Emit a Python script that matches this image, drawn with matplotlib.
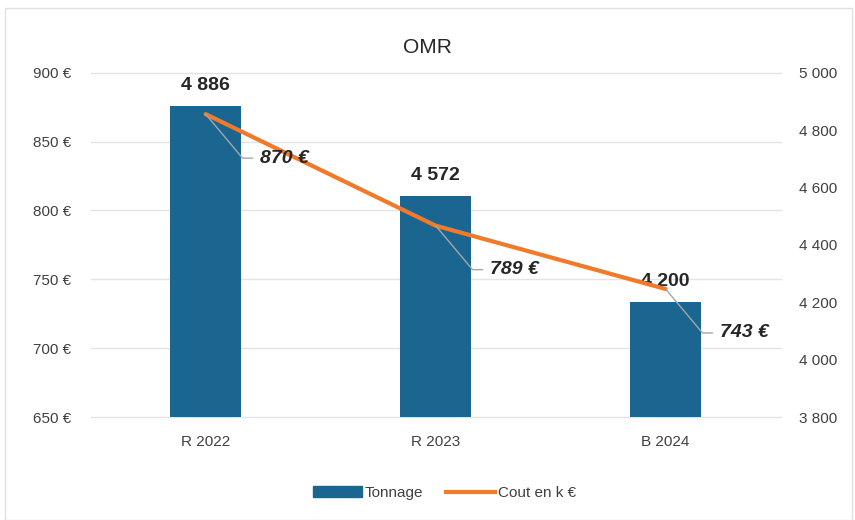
import matplotlib.pyplot as plt
from matplotlib.patches import Rectangle
from matplotlib.ticker import FuncFormatter

categories = ["R 2022", "R 2023", "B 2024"]
tonnage = [4886, 4572, 4200]
cout = [870, 789, 743]

bar_color = "#1b6591"
line_color = "#f07a2a"
text_color = "#262626"
tick_color = "#404040"

plt.rcParams["font.family"] = ["Liberation Sans", "DejaVu Sans"]

fig = plt.figure(figsize=(8.55, 5.2), dpi=100)
ax = fig.add_axes([0.106, 0.198, 0.807, 0.662])
ax2 = ax.twinx()

x = list(range(len(categories)))
left_lim = (650, 900)
right_lim = (3800, 5000)
left_ticks = list(range(650, 901, 50))

# bars on the right axis
ax2.bar(x, tonnage, width=0.31, color=bar_color, zorder=2)
ax2.set_ylim(*right_lim)
ax2.set_yticks(range(3800, 5001, 200))
ax2.yaxis.set_major_formatter(FuncFormatter(lambda v, p: f"{int(v):,}".replace(",", " ")))
# gridlines of the left axis, drawn on the bar axis so they sit behind the bars
scale = (right_lim[1] - right_lim[0]) / (left_lim[1] - left_lim[0])
for t in left_ticks:
    ax2.axhline(right_lim[0] + (t - left_lim[0]) * scale, color="#e3e3ea", lw=1, zorder=0.5,
                clip_on=False)
for xi, v in zip(x, tonnage):
    ax2.annotate(f"{v:,}".replace(",", " "), (xi, v), xytext=(0, 12), textcoords="offset pixels",
                 ha="center", va="bottom", fontsize=14, fontweight="bold", color=text_color)

# line on the left axis, drawn above the bars
ax.set_zorder(ax2.get_zorder() + 1)
ax.patch.set_visible(False)
ax.plot(x, cout, color=line_color, lw=3, solid_capstyle="round", zorder=3)
ax.set_ylim(*left_lim)
ax.set_yticks(left_ticks)
ax.yaxis.set_major_formatter(FuncFormatter(lambda v, p: f"{int(v)} €"))
for xi, v in zip(x, cout):
    ax.annotate(f"{v} €", (xi, v), xytext=(54, -44), textcoords="offset pixels",
                ha="left", va="center", fontsize=14, fontweight="bold", fontstyle="italic",
                color=text_color, zorder=4,
                arrowprops=dict(arrowstyle="-", color="#a6a6a6", lw=1, relpos=(0, 0.5),
                                shrinkA=3, shrinkB=0,
                                connectionstyle="angle,angleA=0,angleB=130,rad=0"))

ax.set_xlim(-0.5, 2.5)
ax.set_xticks(x)
ax.set_xticklabels(categories)

for a in (ax, ax2):
    for s in a.spines.values():
        s.set_visible(False)
    a.tick_params(which="both", length=0, labelsize=11, colors=tick_color)
ax.tick_params(axis="y", pad=14)
ax2.tick_params(axis="y", pad=13)
ax.tick_params(axis="x", pad=13)

fig.text(0.5, 0.908, "OMR", ha="center", va="center", fontsize=15, color=text_color)

h1 = Rectangle((0, 0), 1, 1, color=bar_color)
h2 = plt.Line2D([0], [0], color=line_color, lw=3)
fig.legend([h1, h2], ["Tonnage", "Cout en k €"], loc="center", bbox_to_anchor=(0.52, 0.052),
           ncol=2, frameon=False, fontsize=11, handlelength=3.2, handletextpad=0.2,
           columnspacing=1.5, labelcolor=tick_color)

fig.patches.append(Rectangle((0.006, 0.0), 0.99, 0.985, transform=fig.transFigure,
                             fill=False, edgecolor="#e0e0e0", lw=1))

fig.savefig("out.png", dpi=100, facecolor="white")
